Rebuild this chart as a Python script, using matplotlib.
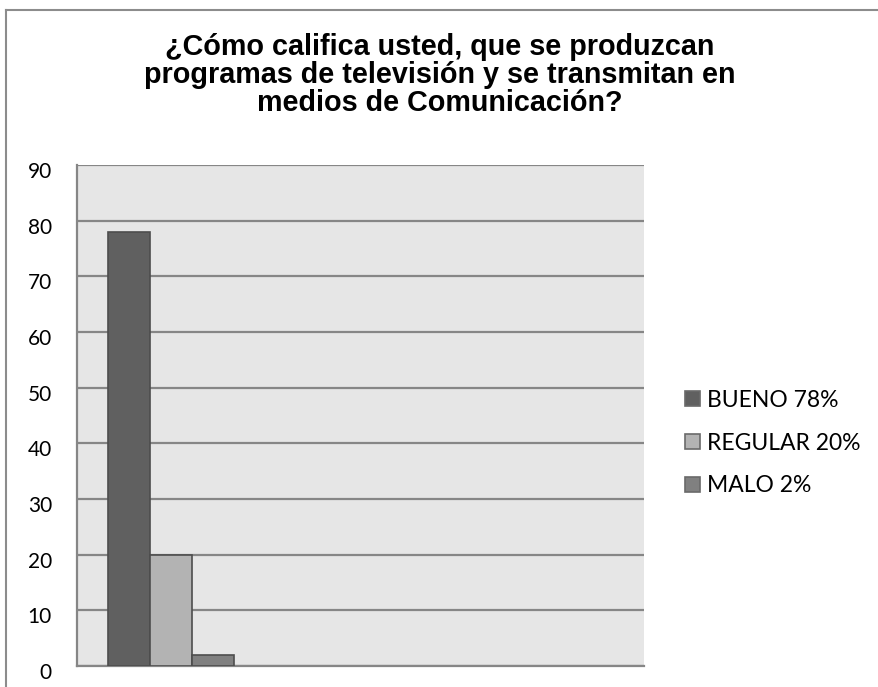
import numpy as np
import matplotlib
matplotlib.use("Agg")
import matplotlib.pyplot as plt
import matplotlib.transforms as mtransforms
from matplotlib.lines import Line2D

series = ['BUENO 78%', 'REGULAR 20%', 'MALO 2%']
values = [78, 20, 2]
colors = ['#606060', '#b3b3b3', '#808080']
yticks = [0, 10, 20, 30, 40, 50, 60, 70, 80, 90]

W, H = 879, 687
fig = plt.figure(figsize=(W / 100, H / 100), dpi=100, facecolor='white')

# outer chart border (top and left visible only)
fig.add_artist(Line2D([6 / W, 6 / W], [0, 1 - 10 / H], transform=fig.transFigure,
                      color='#8c8c8c', lw=1.5))
fig.add_artist(Line2D([6 / W, 1], [1 - 10 / H, 1 - 10 / H], transform=fig.transFigure,
                      color='#8c8c8c', lw=1.5))

left, right, top, bottom = 77, 644, 165, 666
ax = fig.add_axes([left / W, 1 - bottom / H, (right - left) / W, (bottom - top) / H])
ax.set_facecolor('#e6e6e6')

x = np.arange(len(series))
for i in range(len(series)):
    ax.bar(x[i], values[i], width=1.0, align='edge', color=colors[i],
           edgecolor='#4d4d4d', linewidth=1.2, label=series[i], zorder=3)

ax.set_ylim(0, 90)
ax.set_xlim(-31 / 42, (right - left - 31) / 42)
ax.set_yticks(yticks)
ax.yaxis.grid(True, color='#868686', linewidth=1.6, zorder=1)
ax.set_xticks([])
ax.tick_params(axis='y', length=0, pad=18, labelsize=15)
shift = mtransforms.ScaledTranslation(0, -5 / 100, fig.dpi_scale_trans)
for lab in ax.get_yticklabels():
    lab.set_fontfamily('Lato')
    lab.set_transform(lab.get_transform() + shift)

for s in ['top', 'right']:
    ax.spines[s].set_visible(False)
for s in ['left', 'bottom']:
    ax.spines[s].set_color('#868686')
    ax.spines[s].set_linewidth(1.6)

leg = ax.legend(loc='center left', bbox_to_anchor=(685 / W, 1 - 443 / H),
                bbox_transform=fig.transFigure, frameon=False,
                handlelength=0.65, handleheight=0.65, handletextpad=0.3,
                labelspacing=0.95, borderaxespad=0, borderpad=0,
                prop={'family': 'Lato', 'size': 16.5})
for h in leg.legend_handles:
    h.set_edgecolor('#6a6a6a')

fig.text(0.5, 1 - 75 / H,
         '¿Cómo califica usted, que se produzcan\nprogramas de televisión y se transmitan en\nmedios de Comunicación?',
         ha='center', va='center', fontsize=20.7, fontweight='bold',
         family='Liberation Sans', linespacing=0.98)

fig.savefig('out.png', dpi=100, facecolor='white')
